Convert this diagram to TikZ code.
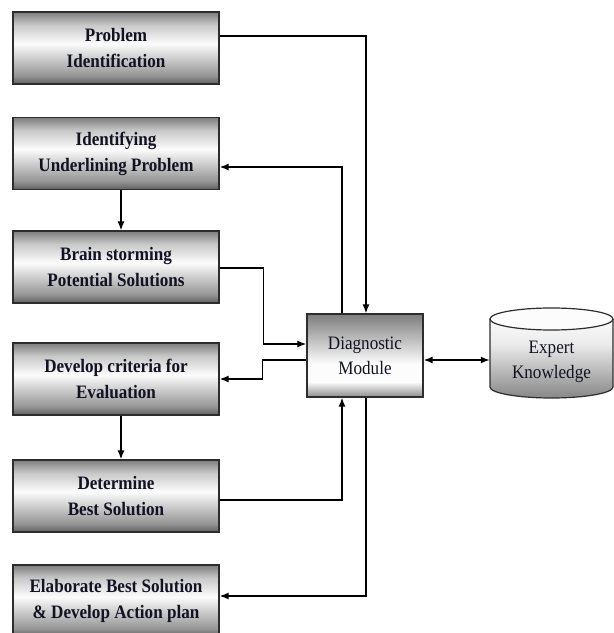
\documentclass[tikz,border=0pt]{standalone}
\usepackage{fontspec}
\setmainfont{Liberation Serif}
% slightly condensed serif for the labels
\newfontfamily\labelfont{Liberation Serif}[FakeStretch=0.9]
\usetikzlibrary{arrows.meta,calc}

% grey-white-grey fill of the process boxes (bottom to top)
\definecolor{boxlo}{RGB}{95,95,95}
\definecolor{boxmidlo}{RGB}{150,150,150}
\definecolor{boxhi}{RGB}{252,252,252}
\definecolor{boxmidhi}{RGB}{200,200,200}
\definecolor{boxtop}{RGB}{125,125,125}
\pgfdeclareverticalshading{boxshade}{100bp}{%
  color(0bp)=(boxlo); color(25bp)=(boxlo); color(31bp)=(boxmidlo);
  color(53bp)=(boxhi); color(66bp)=(boxmidhi); color(75bp)=(boxtop);
  color(100bp)=(boxtop)}
% fill of the diagnostic module
\definecolor{dglo}{RGB}{140,140,140}
\definecolor{dgtop}{RGB}{125,125,125}
\pgfdeclareverticalshading{diagshade}{100bp}{%
  color(0bp)=(dglo); color(25bp)=(dglo); color(34bp)=(boxhi);
  color(45bp)=(boxhi); color(75bp)=(dgtop); color(100bp)=(dgtop)}
% body of the knowledge store
\definecolor{cylo}{RGB}{135,135,135}
\definecolor{cyhi}{RGB}{235,235,235}
\pgfdeclareverticalshading{cylshade}{100bp}{%
  color(0bp)=(cylo); color(25bp)=(cylo); color(55bp)=(cyhi);
  color(70bp)=(boxhi); color(75bp)=(cyhi); color(100bp)=(cyhi)}

\definecolor{inkcol}{RGB}{18,18,36}
\definecolor{edgecol}{RGB}{45,45,45}

\tikzset{
  procbox/.style={draw=edgecol, line width=1.2pt, shading=boxshade,
    minimum width=206pt, minimum height=72pt, inner sep=0pt,
    align=center, text=inkcol,
    font=\labelfont\bfseries\fontsize{19}{26}\selectfont},
  diagbox/.style={draw=edgecol, line width=1.2pt, shading=diagshade,
    minimum width=116pt, minimum height=83pt, inner sep=0pt,
    align=center, text=inkcol, font=\labelfont\fontsize{19}{25}\selectfont},
  plain/.style={align=center, text=inkcol, inner sep=0pt,
    font=\labelfont\fontsize{19}{25}\selectfont},
  link/.style={line width=1.5pt, draw=black},
  arr/.style={link, -{Latex[length=9pt,width=7pt]}},
  biarr/.style={link, {Latex[length=9pt,width=7pt]}-{Latex[length=9pt,width=7pt]}},
}

\begin{document}
\begin{tikzpicture}[x=1pt,y=1pt]
  \useasboundingbox (0,0) rectangle (614,633);
  \fill[white] (0,0) rectangle (614,633);

  % process steps
  \node[procbox] (b1) at (116,585)   {Problem\\Identification};
  \node[procbox] (b2) at (116,479.5) {Identifying\\Underlining Problem};
  \node[procbox] (b3) at (116,366)   {Brain storming\\Potential Solutions};
  \node[procbox] (b4) at (116,254)   {Develop criteria for\\Evaluation};
  \node[procbox] (b5) at (116,137)   {Determine\\Best Solution};
  \node[procbox] (b6) at (116,32)    {Elaborate Best Solution\\\& Develop Action plan};

  % diagnostic module
  \node[diagbox] (d) at (365,277.5) {Diagnostic\\Module};

  % expert knowledge store (cylinder)
  \node[minimum width=123pt, minimum height=90pt, inner sep=0pt] (ek) at (551.5,280) {};
  \path[shading=cylshade] (490,314) -- (490,246) arc (180:360:61.5 and 11)
    -- (613,314) arc (0:180:61.5 and 11) -- cycle;
  \draw[edgecol, line width=1.2pt] (490,314) -- (490,246) arc (180:360:61.5 and 11)
    -- (613,314);
  \draw[edgecol, line width=1.2pt, fill=boxhi] (551.5,314) ellipse (61.5 and 11);
  \node[plain] (ekt) at (551.5,271) {Expert\\Knowledge};

  % connectors
  \draw[arr] ([yshift=12pt]b1.east) -| ([xshift=1pt]d.north);
  \draw[arr] ([xshift=-23pt]d.north) |- ([yshift=-13.5pt]b2.east);
  \draw[arr] ([xshift=5pt]b2.south) -- ([xshift=5pt]b3.north);
  \draw[arr] ([yshift=-1pt]b3.east) -- ++(44,0) |- ([yshift=11.5pt]d.west);
  \draw[arr] ([yshift=-4.5pt]d.west) -- ++(-44,0) |- (b4.east);
  \draw[arr] ([xshift=5pt]b4.south) -- ([xshift=5pt]b5.north);
  \draw[arr] ([yshift=-4pt]b5.east) -| ([xshift=-23pt]d.south);
  \draw[arr] ([xshift=1pt]d.south) |- ([yshift=5pt]b6.east);
  \draw[biarr] ([yshift=-4.5pt]d.east) -- ([yshift=-4.5pt]d.east -| ek.west);
\end{tikzpicture}
\end{document}
